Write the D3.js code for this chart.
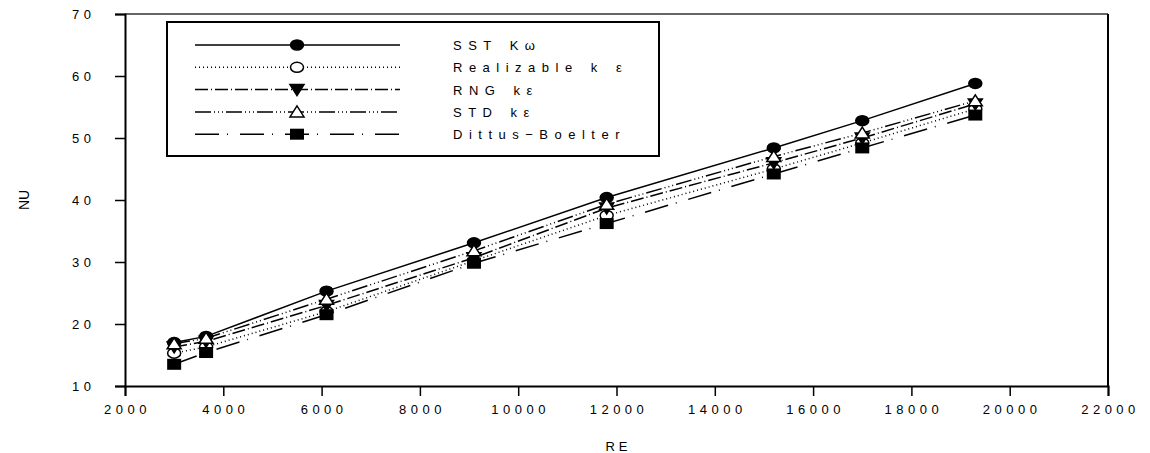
<!DOCTYPE html>
<html>
<head>
<meta charset="UTF-8" />
<title>NU vs RE</title>
<script src="https://d3js.org/d3.v7.min.js"></script>
<style>
  body { margin: 0; background: #fff; }
  text { font-family: "Liberation Sans", Arial, sans-serif; fill: #000; }
</style>
</head>
<body>
<div id="main"></div>
<script type="text/javascript">

var re = [3000, 3650, 6100, 9100, 11800, 15200, 17000, 19300];
var sst = [17.0, 18.0, 25.3, 33.1, 40.4, 48.4, 52.8, 58.8];
var realizable = [15.3, 16.3, 22.0, 30.2, 37.5, 45.0, 49.2, 54.7];
var rng = [16.3, 17.2, 23.0, 30.7, 38.7, 46.0, 50.0, 55.5];
var std = [16.8, 17.7, 24.0, 31.8, 39.3, 47.0, 50.8, 56.0];
var dittus = [13.5, 15.4, 21.5, 29.8, 36.2, 44.2, 48.4, 53.7];

var seriesNames = ['SST K\u03c9', 'Realizable k \u03b5', 'RNG k\u03b5', 'STD k\u03b5', 'Dittus\u2212Boelter'];
var xTicks = [2000, 4000, 6000, 8000, 10000, 12000, 14000, 16000, 18000, 20000, 22000];
var yTicks = [10, 20, 30, 40, 50, 60, 70];

var width = 1150, height = 453;
var margin = {left: 125, right: 42, top: 14, bottom: 67};

var svg = d3.select('#main').append('svg')
  .attr('width', width)
  .attr('height', height);

var x = d3.scaleLinear().domain([2000, 22000]).range([margin.left, width - margin.right]);
var y = d3.scaleLinear().domain([10, 70]).range([height - margin.bottom, margin.top]);

// series styles
var series = [
  {name: seriesNames[0], vals: sst, dash: null, marker: 'circle', fill: '#000'},
  {name: seriesNames[1], vals: realizable, dash: '1,3', marker: 'circle', fill: '#fff'},
  {name: seriesNames[2], vals: rng, dash: '13,3,1,3', marker: 'down', fill: '#000'},
  {name: seriesNames[3], vals: std, dash: '16,3,1,3,1,3,1,3', marker: 'up', fill: '#fff'},
  {name: seriesNames[4], vals: dittus, dash: '24,8,1,12', marker: 'square', fill: '#000'}
];

function drawMarker(g, type, fill) {
  if (type == 'circle') {
    g.append('ellipse').attr('rx', 6.5).attr('ry', 5)
      .attr('fill', fill).attr('stroke', '#000').attr('stroke-width', 1.5);
  } else if (type == 'down') {
    g.append('path').attr('d', 'M-7,-5L7,-5L0,6Z')
      .attr('fill', fill).attr('stroke', '#000').attr('stroke-width', 1.5);
  } else if (type == 'up') {
    g.append('path').attr('d', 'M-7,5L7,5L0,-6Z')
      .attr('fill', fill).attr('stroke', '#000').attr('stroke-width', 1.5);
  } else {
    g.append('rect').attr('x', -7).attr('y', -5.5).attr('width', 14).attr('height', 11)
      .attr('fill', fill);
  }
}

// frame top/right
svg.append('line')
  .attr('x1', x(2000)).attr('x2', x(22000)).attr('y1', y(70)).attr('y2', y(70))
  .attr('stroke', '#666').attr('stroke-width', 2);
svg.append('line')
  .attr('x1', x(22000)).attr('x2', x(22000)).attr('y1', y(70)).attr('y2', y(10))
  .attr('stroke', '#000').attr('stroke-width', 2);

// axes
var xAxis = svg.append('g')
  .attr('transform', 'translate(0,' + y(10) + ')')
  .call(d3.axisBottom(x).tickValues(xTicks).tickSize(10).tickPadding(9).tickFormat(d3.format('d')));
var yAxis = svg.append('g')
  .attr('transform', 'translate(' + x(2000) + ',0)')
  .call(d3.axisLeft(y).tickValues(yTicks).tickSize(10).tickPadding(28).tickFormat(d3.format('d')));

[xAxis, yAxis].forEach(function(a) {
  a.select('.domain').attr('stroke', '#000').attr('stroke-width', 2);
  a.selectAll('.tick line').attr('stroke', '#000').attr('stroke-width', 1.5);
  a.selectAll('.tick text')
    .style('font-family', '"Liberation Sans", Arial, sans-serif')
    .style('font-size', '13px')
    .style('letter-spacing', '4.5px');
});
// centre x labels despite trailing letter spacing
xAxis.selectAll('.tick text').attr('dx', '2px');
yAxis.selectAll('.tick text').attr('text-anchor', 'start').attr('x', -53);

// axis titles
svg.append('text')
  .attr('x', x(12000) + 2).attr('y', 451)
  .attr('text-anchor', 'middle')
  .style('font-size', '13px').style('letter-spacing', '4px')
  .text('RE');
svg.append('text')
  .attr('transform', 'translate(29,' + y(40) + ') rotate(-90)')
  .attr('text-anchor', 'middle')
  .style('font-size', '14px')
  .text('NU');

// lines and markers
var line = d3.line().x(function(d) { return x(d[0]); }).y(function(d) { return y(d[1]); });

series.forEach(function(s) {
  var pts = re.map(function(r, i) { return [r, s.vals[i]]; });
  svg.append('path')
    .datum(pts)
    .attr('d', line)
    .attr('fill', 'none')
    .attr('stroke', '#000')
    .attr('stroke-width', 1.5)
    .attr('stroke-dasharray', s.dash);
});
series.forEach(function(s) {
  re.forEach(function(r, i) {
    var g = svg.append('g').attr('transform', 'translate(' + x(r) + ',' + y(s.vals[i]) + ')');
    drawMarker(g, s.marker, s.fill);
  });
});

// legend
var legend = svg.append('g');
legend.append('rect')
  .attr('x', 167).attr('y', 22).attr('width', 492).attr('height', 134)
  .attr('fill', '#fff').attr('stroke', '#000').attr('stroke-width', 2);

series.forEach(function(s, i) {
  var ly = 45 + i * 22.3;
  legend.append('line')
    .attr('x1', 195).attr('x2', 400).attr('y1', ly).attr('y2', ly)
    .attr('stroke', '#000').attr('stroke-width', 1.5)
    .attr('stroke-dasharray', s.dash);
  var g = legend.append('g').attr('transform', 'translate(297,' + ly + ')');
  drawMarker(g, s.marker, s.fill);
  legend.append('text')
    .attr('x', 453).attr('y', ly + 5)
    .style('font-size', '13px').style('letter-spacing', '6.5px').style('word-spacing', '2px')
    .text(s.name);
});

</script>
</body>
</html>
